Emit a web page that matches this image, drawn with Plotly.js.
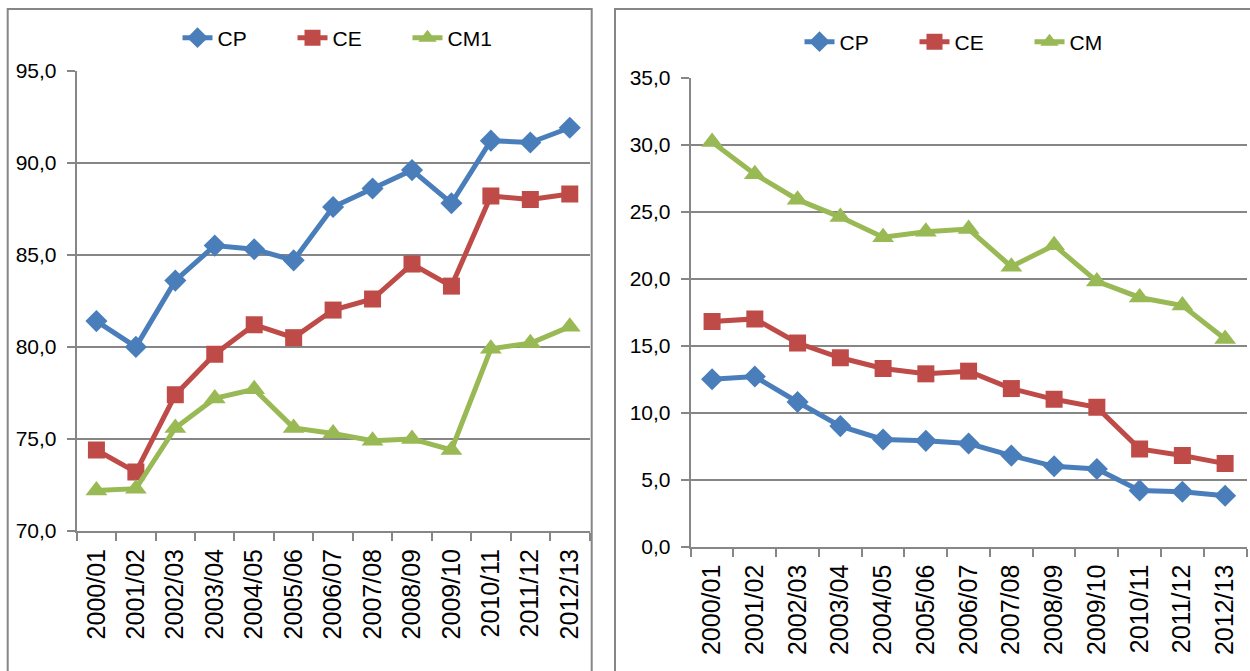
<!DOCTYPE html>
<html>
<head>
<meta charset="utf-8">
<script src="https://cdn.plot.ly/plotly-3.0.1.min.js"></script>
<style>
  html, body { margin: 0; padding: 0; background: #fff; }
  #chart { width: 1250px; height: 671px; }
</style>
</head>
<body>
<div id="chart"></div>
<script>
// ---- data ----
const years = ["2000/01","2001/02","2002/03","2003/04","2004/05","2005/06","2006/07",
               "2007/08","2008/09","2009/10","2010/11","2011/12","2012/13"];

// left panel
const leftCP  = [81.4, 80.0, 83.6, 85.5, 85.3, 84.7, 87.6, 88.6, 89.6, 87.8, 91.2, 91.1, 91.9];
const leftCE  = [74.4, 73.2, 77.4, 79.6, 81.2, 80.5, 82.0, 82.6, 84.5, 83.3, 88.2, 88.0, 88.3];
const leftCM1 = [72.2, 72.3, 75.6, 77.2, 77.7, 75.6, 75.3, 74.9, 75.0, 74.4, 79.9, 80.2, 81.1];

// right panel
const rightCP = [12.5, 12.7, 10.8, 9.0, 8.0, 7.9, 7.7, 6.8, 6.0, 5.8, 4.2, 4.1, 3.8];
const rightCE = [16.8, 17.0, 15.2, 14.1, 13.3, 12.9, 13.1, 11.8, 11.0, 10.4, 7.3, 6.8, 6.2];
const rightCM = [30.2, 27.8, 25.9, 24.6, 23.1, 23.5, 23.7, 20.9, 22.5, 19.8, 18.6, 18.0, 15.5];

const seriesNames = ["CP", "CE", "CM1", "CM"];

// ---- styling ----
const BLUE = "#4a7ebb", RED = "#be4b48", GREEN = "#98b954";
const GRID = "#868686";
const FONT = "Liberation Sans, Arial, sans-serif";
const W = 1250, H = 671;
const px = v => v / W;
const py = v => 1 - v / H;

function line(x, y, name, color, symbol, size, xa, ya, leg) {
  return {
    x: x, y: y, name: name, type: "scatter", mode: "lines+markers",
    xaxis: xa, yaxis: ya, legend: leg,
    line: { color: color, width: 5 },
    marker: { color: color, symbol: symbol, size: size, line: { width: 0 } }
  };
}

const traces = [
  line(years, leftCP,  seriesNames[0], BLUE,  "diamond",     17, "x",  "y",  "legend"),
  line(years, leftCE,  seriesNames[1], RED,   "square",      17, "x",  "y",  "legend"),
  line(years, leftCM1, seriesNames[2], GREEN, "triangle-up", 19, "x",  "y",  "legend"),
  line(years, rightCP, seriesNames[0], BLUE,  "diamond",     17, "x2", "y2", "legend2"),
  line(years, rightCE, seriesNames[1], RED,   "square",      17, "x2", "y2", "legend2"),
  line(years, rightCM, seriesNames[3], GREEN, "triangle-up", 19, "x2", "y2", "legend2")
];

function xaxis(domain, anchor) {
  return {
    domain: domain, anchor: anchor, type: "category", range: [-0.5, 12.5],
    showgrid: false, zeroline: false,
    showline: true, linecolor: GRID, linewidth: 2,
    ticks: "outside", tickson: "boundaries", ticklen: 8, tickcolor: GRID, tickwidth: 2,
    tickangle: -90, tickfont: { family: FONT, size: 25, color: "#000" },
    ticklabelstandoff: 6, fixedrange: true
  };
}
function yaxis(domain, anchor, range, dtick) {
  return {
    domain: domain, anchor: anchor, range: range, dtick: dtick, tick0: 0,
    tickformat: ".1f",
    showgrid: true, gridcolor: GRID, gridwidth: 2, zeroline: false,
    showline: true, linecolor: GRID, linewidth: 2,
    ticks: "outside", ticklen: 8, tickcolor: GRID, tickwidth: 2,
    tickfont: { family: FONT, size: 21, color: "#000" },
    ticklabelstandoff: 6, fixedrange: true
  };
}

const legendFont = { family: FONT, size: 21, color: "#000" };

const layout = {
  width: W, height: H,
  margin: { l: 0, r: 0, t: 0, b: 0 },
  paper_bgcolor: "#fff", plot_bgcolor: "#fff",
  separators: ", ",
  font: { family: FONT, color: "#000" },
  xaxis:  xaxis([px(76.7), px(589.5)], "y"),
  yaxis:  yaxis([py(531), py(70.7)], "x", [70, 95], 5),
  xaxis2: xaxis([px(690.7), px(1246.5)], "y2"),
  yaxis2: yaxis([py(546.7), py(77.7)], "x2", [0, 35], 5),
  legend: {
    orientation: "h", x: px(350), y: py(38), xanchor: "center", yanchor: "middle",
    font: legendFont, bgcolor: "rgba(0,0,0,0)", entrywidth: 70,
    itemclick: false, itemdoubleclick: false
  },
  legend2: {
    orientation: "h", x: px(972), y: py(42), xanchor: "center", yanchor: "middle",
    font: legendFont, bgcolor: "rgba(0,0,0,0)", entrywidth: 70,
    itemclick: false, itemdoubleclick: false
  },
  shapes: [
    { type: "rect", xref: "paper", yref: "paper", x0: px(7.7), x1: px(591.7), y0: py(720), y1: py(9),
      line: { color: GRID, width: 2 }, fillcolor: "rgba(0,0,0,0)", layer: "below" },
    { type: "rect", xref: "paper", yref: "paper", x0: px(615), x1: px(1300), y0: py(720), y1: py(9),
      line: { color: GRID, width: 2 }, fillcolor: "rgba(0,0,0,0)", layer: "below" }
  ],
  showlegend: true
};

Plotly.newPlot("chart", traces, layout, { staticPlot: true, displayModeBar: false });
</script>
</body>
</html>
